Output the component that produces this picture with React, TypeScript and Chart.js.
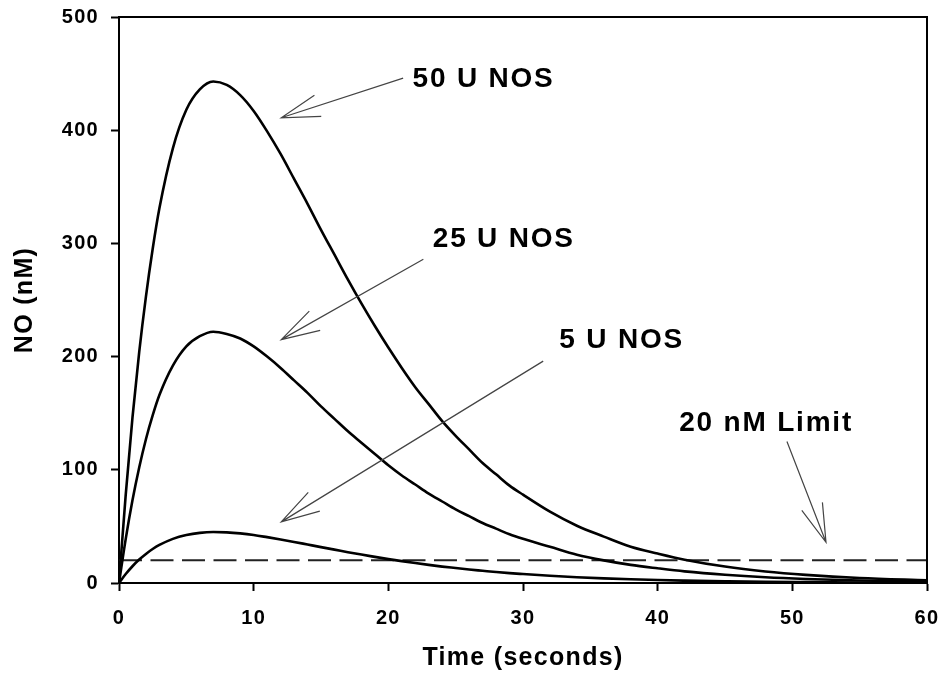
import { useEffect, useRef } from "react";
import { Chart, registerables } from "chart.js";

Chart.register(...registerables);

// ---- data ----
const timeSeconds = [0, 0.5, 1, 1.5, 2, 2.5, 3, 4, 5, 6, 7, 8, 9, 10, 11, 12, 13, 14, 15, 16, 17, 18, 19, 20, 21, 22, 23, 24, 25, 26, 27, 28, 29, 30, 32, 34, 36, 38, 40, 42, 45, 48, 51, 55, 60];
const nos50 = [0, 78, 146, 204, 253, 295, 331, 384, 418, 436, 443, 440, 431, 417, 399, 379, 357, 335, 312, 290, 268, 247, 227, 208, 190, 173, 158, 143, 130, 118, 106, 96, 86, 78, 63, 50.6, 41, 32, 26, 20.6, 14.5, 10.2, 7.2, 4.4, 2.4];
const nos25 = [0, 39, 73, 102, 127, 148, 166, 192, 209, 218, 222, 220, 216, 209, 200, 190, 179, 168, 156, 145, 134, 124, 114, 104, 95, 87, 79, 72, 65, 59, 53, 48, 43, 39, 32, 25, 20, 16, 13, 10.3, 7.3, 5.1, 3.6, 2.2, 1.2];
const nos5 = [0, 7.9, 14.8, 20.7, 25.7, 30, 33.6, 39, 42.4, 44.3, 45, 44.7, 43.8, 42.4, 40.5, 38.5, 36.3, 34, 31.7, 29.5, 27.2, 25.1, 23.1, 21.1, 19.3, 17.6, 16, 14.5, 13.2, 11.9, 10.8, 9.7, 8.7, 7.9, 6.4, 5.1, 4.1, 3.3, 2.6, 2.1, 1.5, 1.0, 0.73, 0.45, 0.25];

const limitTimes = [0, 60];
const limitValues = [20, 20];

const xTicks = [0, 10, 20, 30, 40, 50, 60];
const yTicks = [0, 100, 200, 300, 400, 500];

// annotations (data coordinates)
const noteText = ["50 U NOS", "25 U NOS", "5 U NOS", "20 nM Limit"];
const noteX = [21.8, 23.3, 32.7, 41.6];
const noteY = [445, 304, 214, 141];
const arrowTailX = [21.1, 22.6, 31.5, 49.6];
const arrowTailY = [446, 286, 196, 125];
const arrowTipX = [12.05, 12.05, 12.05, 52.5];
const arrowTipY = [411, 215, 54, 36];

const FONT = '"Liberation Sans", Arial, Helvetica, sans-serif';

const overlay = {
  id: "overlay",
  beforeDraw(chart: any) {
    (chart.ctx as any).letterSpacing = "1.3px";
  },
  afterDatasetsDraw(chart: any) {
    const { ctx, chartArea, scales } = chart;
    const xs = scales.x;
    const ys = scales.y;
    ctx.save();
    // frame top & right
    ctx.strokeStyle = "#000";
    ctx.lineWidth = 2;
    ctx.beginPath();
    ctx.moveTo(chartArea.left, chartArea.top);
    ctx.lineTo(chartArea.right, chartArea.top);
    ctx.lineTo(chartArea.right, chartArea.bottom);
    ctx.stroke();

    // arrows
    ctx.strokeStyle = "#444";
    ctx.lineWidth = 1.2;
    for (let i = 0; i < arrowTailX.length; i++) {
      const x1 = xs.getPixelForValue(arrowTailX[i]);
      const y1 = ys.getPixelForValue(arrowTailY[i]);
      const x2 = xs.getPixelForValue(arrowTipX[i]);
      const y2 = ys.getPixelForValue(arrowTipY[i]);
      const a = Math.atan2(y1 - y2, x1 - x2);
      const len = 40;
      const spread = 0.28;
      ctx.beginPath();
      ctx.moveTo(x1, y1);
      ctx.lineTo(x2, y2);
      ctx.moveTo(x2 + len * Math.cos(a + spread), y2 + len * Math.sin(a + spread));
      ctx.lineTo(x2, y2);
      ctx.lineTo(x2 + len * Math.cos(a - spread), y2 + len * Math.sin(a - spread));
      ctx.stroke();
    }

    // labels
    ctx.fillStyle = "#000";
    ctx.font = `bold 28px ${FONT}`;
    (ctx as any).letterSpacing = "1.8px";
    ctx.textAlign = "left";
    ctx.textBaseline = "middle";
    for (let i = 0; i < noteText.length; i++) {
      ctx.fillText(noteText[i], xs.getPixelForValue(noteX[i]), ys.getPixelForValue(noteY[i]));
    }
    ctx.restore();
  },
};

export default function App() {
  const ref = useRef<HTMLCanvasElement | null>(null);
  useEffect(() => {
    if (!ref.current) return;
    const curve = (vals: number[]) => timeSeconds.map((t, i) => ({ x: t, y: vals[i] }));
    const lineStyle = {
      borderColor: "#000",
      borderWidth: 2.6,
      pointRadius: 0,
      fill: false,
      cubicInterpolationMode: "monotone" as const,
    };
    const chart = new Chart(ref.current, {
      type: "line",
      data: {
        datasets: [
          { label: "50 U NOS", data: curve(nos50), ...lineStyle },
          { label: "25 U NOS", data: curve(nos25), ...lineStyle },
          { label: "5 U NOS", data: curve(nos5), ...lineStyle },
          {
            label: "20 nM Limit",
            data: limitTimes.map((t, i) => ({ x: t, y: limitValues[i] })),
            borderColor: "#222",
            borderWidth: 2,
            borderDash: [23, 8.5],
            pointRadius: 0,
            fill: false,
          },
        ],
      },
      options: {
        animation: false,
        responsive: true,
        maintainAspectRatio: false,
        layout: { padding: { left: 0, right: 16, top: 17, bottom: 0 } },
        plugins: { legend: { display: false }, tooltip: { enabled: false } },
        scales: {
          x: {
            type: "linear",
            min: 0,
            max: 60,
            afterBuildTicks: (s: any) => {
              s.ticks = xTicks.map((v) => ({ value: v }));
            },
            afterFit: (s: any) => {
              s.height = 103;
              s.paddingLeft = 0;
              s.paddingRight = 0;
            },
            grid: {
              display: true,
              drawOnChartArea: false,
              drawTicks: true,
              tickLength: 8,
              tickWidth: 2,
              tickColor: "#000",
              color: "#000",
            },
            border: { display: true, color: "#000", width: 2 },
            ticks: {
              color: "#000",
              padding: 15,
              maxRotation: 0,
              font: { family: FONT, size: 20, weight: "bold" },
            },
            title: {
              display: true,
              text: "Time (seconds)",
              color: "#000",
              font: { family: FONT, size: 25, weight: "bold" },
              padding: { top: 0, bottom: 13 },
            },
          },
          y: {
            type: "linear",
            min: 0,
            max: 500,
            afterBuildTicks: (s: any) => {
              s.ticks = yTicks.map((v) => ({ value: v }));
            },
            afterFit: (s: any) => {
              s.width = 119;
              s.paddingTop = 0;
              s.paddingBottom = 0;
            },
            grid: {
              display: true,
              drawOnChartArea: false,
              drawTicks: true,
              tickLength: 8,
              tickWidth: 2,
              tickColor: "#000",
              color: "#000",
            },
            border: { display: true, color: "#000", width: 2 },
            ticks: {
              color: "#000",
              padding: 12,
              font: { family: FONT, size: 20, weight: "bold" },
            },
            title: {
              display: true,
              text: "NO (nM)",
              color: "#000",
              font: { family: FONT, size: 25, weight: "bold" },
              padding: { top: 10, bottom: 0 },
            },
          },
        },
      },
      plugins: [overlay],
    });
    return () => chart.destroy();
  }, []);

  return (
    <div style={{ position: "fixed", left: 0, top: 0, width: 943, height: 686, background: "#fff" }}>
      <canvas ref={ref} />
    </div>
  );
}
